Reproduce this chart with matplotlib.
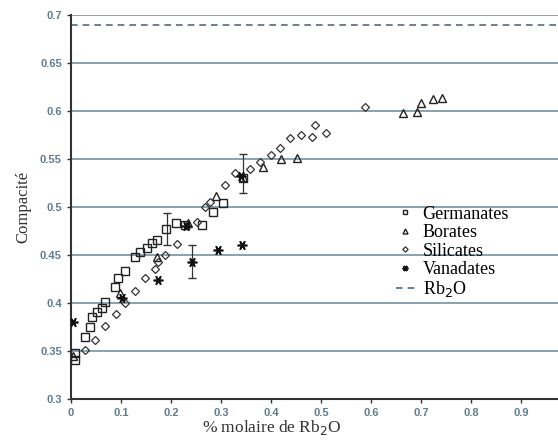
import matplotlib
matplotlib.use("Agg")
import matplotlib.pyplot as plt

# Germanates (carrés)
germ_x = [0.008, 0.008, 0.028, 0.038, 0.042, 0.052, 0.062, 0.068, 0.088, 0.094, 0.108,
          0.128, 0.138, 0.152, 0.162, 0.172, 0.19, 0.21, 0.228, 0.262, 0.284, 0.304, 0.344]
germ_y = [0.341, 0.348, 0.365, 0.375, 0.385, 0.391, 0.395, 0.401, 0.417, 0.426, 0.433,
          0.448, 0.453, 0.457, 0.463, 0.466, 0.477, 0.483, 0.481, 0.481, 0.495, 0.504, 0.53]

# Borates (triangles)
bor_x = [0.004, 0.098, 0.172, 0.234, 0.29, 0.344, 0.384, 0.42, 0.452,
         0.664, 0.692, 0.70, 0.724, 0.742]
bor_y = [0.345, 0.41, 0.448, 0.483, 0.512, 0.531, 0.542, 0.55, 0.551,
         0.598, 0.599, 0.608, 0.612, 0.614]

# Silicates (losanges)
sil_x = [0.028, 0.048, 0.068, 0.09, 0.108, 0.128, 0.148, 0.168, 0.174, 0.188, 0.212,
         0.252, 0.268, 0.278, 0.308, 0.328, 0.358, 0.378, 0.40, 0.418, 0.438, 0.46,
         0.482, 0.488, 0.51, 0.588]
sil_y = [0.351, 0.362, 0.376, 0.389, 0.40, 0.413, 0.426, 0.436, 0.443, 0.45, 0.462,
         0.484, 0.50, 0.505, 0.523, 0.535, 0.54, 0.547, 0.554, 0.562, 0.572, 0.575,
         0.573, 0.585, 0.577, 0.604]

# Vanadates (astérisques)
van_x = [0.004, 0.102, 0.174, 0.23, 0.242, 0.294, 0.342, 0.34]
van_y = [0.38, 0.405, 0.424, 0.48, 0.443, 0.455, 0.46, 0.532]

# barres d'erreur
err_x = [0.192, 0.242, 0.344]
err_y = [0.477, 0.443, 0.535]
err_e = [0.017, 0.017, 0.02]

rb2o = 0.69

x_ticks = [0, 0.1, 0.2, 0.3, 0.4, 0.5, 0.6, 0.7, 0.8, 0.9]
y_ticks = [0.3, 0.35, 0.4, 0.45, 0.5, 0.55, 0.6, 0.65, 0.7]

grid_col = "#7c9cae"
tick_col = "#5d7d90"

fig = plt.figure(figsize=(5.58, 4.41), dpi=100)
ax = fig.add_axes([0.127, 0.095, 0.873, 0.871])

for yv in y_ticks[1:]:
    ax.axhline(yv, color=grid_col, lw=1.3, zorder=0)

ax.errorbar(err_x, err_y, yerr=err_e, fmt="none", ecolor="#333333", elinewidth=0.9,
            capsize=3, zorder=2)

ax.plot(germ_x, germ_y, ls="none", marker="s", ms=6, mfc="none", mec="#222222",
        mew=1.0, label="Germanates", zorder=3)
ax.plot(bor_x, bor_y, ls="none", marker="^", ms=6, mfc="none", mec="#222222",
        mew=1.0, label="Borates", zorder=3)
ax.plot(sil_x, sil_y, ls="none", marker="D", ms=4.5, mfc="none", mec="#333333",
        mew=0.9, label="Silicates", zorder=3)
ax.plot(van_x, van_y, ls="none", marker=(6, 2, 30), ms=7, mec="#111111",
        mew=1.2, label="Vanadates", zorder=3)
ax.axhline(rb2o, color="#4d6d80", lw=1.2, ls=(0, (4, 3)), label="Rb$_2$O", zorder=1)

ax.set_xlim(0, 0.974)
ax.set_ylim(0.3, 0.7)
ax.set_xticks(x_ticks)
ax.set_yticks(y_ticks)
ax.set_xticklabels([f"{v:g}" for v in x_ticks])
ax.set_yticklabels([f"{v:g}" for v in y_ticks])
ax.tick_params(direction="out", length=3, width=1, colors="#333333",
               labelcolor=tick_col, labelsize=8)
for lab in ax.get_xticklabels() + ax.get_yticklabels():
    lab.set_fontweight("bold")
    lab.set_family("Liberation Sans")

for s in ["top", "right"]:
    ax.spines[s].set_visible(False)
for s in ["left", "bottom"]:
    ax.spines[s].set_color("#333333")
    ax.spines[s].set_linewidth(1.5)

ax.set_xlabel("% molaire de Rb$_2$O", family="Liberation Serif", fontsize=12.5,
              color="#333333")
ax.xaxis.set_label_coords(0.413, -0.05)
ax.set_ylabel("Compacité", family="Liberation Serif", fontsize=12,
              color="#333333", labelpad=6)

leg = ax.legend(loc="upper left", bbox_to_anchor=(0.648, 0.527), frameon=False,
                prop={"family": "Liberation Serif", "size": 13},
                handlelength=1.1, handletextpad=0.4, labelspacing=0.08,
                borderpad=0, markerscale=0.6)

fig.savefig("out.png", dpi=100)
